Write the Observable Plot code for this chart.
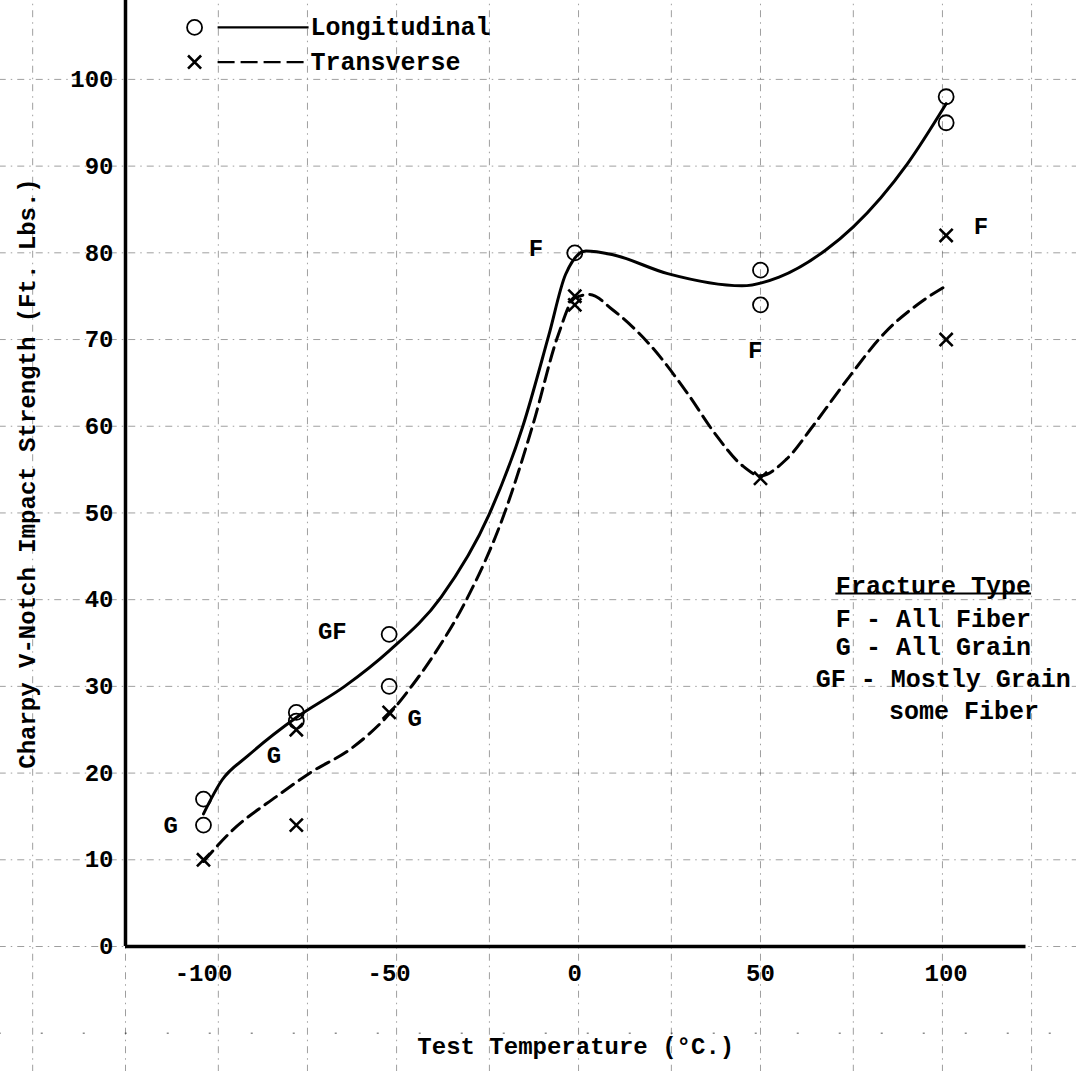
<!DOCTYPE html>
<html>
<head>
<meta charset="utf-8">
<script src="https://cdn.jsdelivr.net/npm/d3@7"></script>
<script src="https://cdn.jsdelivr.net/npm/@observablehq/plot@0.6"></script>
<style>
  html, body { margin: 0; padding: 0; background: #fff; }
  #chart { width: 1076px; height: 1071px; }
</style>
</head>
<body>
<div id="chart"></div>
<script>
// ---------- data ----------
const xTicks = [-100, -50, 0, 50, 100];
const yTicks = [0, 10, 20, 30, 40, 50, 60, 70, 80, 90, 100];

// measured points
const longTemp  = [-100, -100, -75, -75, -50, -50, 0, 50, 50, 100, 100];
const longValue = [17, 14, 27, 26, 36, 30, 80, 78, 74, 98, 95];
const transTemp  = [-100, -75, -75, -50, 0, 0, 50, 100, 100];
const transValue = [10, 25, 14, 27, 75, 74, 54, 82, 70];

// hand-drawn fitted curves (traced)
const longCurveTemp  = [-100, -95, -88, -75, -62, -50, -36, -23, -14, -7, -2.5, 3, 10, 25, 45, 55, 67.5, 75, 89.6, 100];
const longCurveValue = [15.3, 19.2, 22.0, 26.4, 30.0, 34.1, 40.3, 49.9, 60.0, 70.5, 77.5, 80.2, 79.8, 77.6, 76.2, 77.2, 80.3, 83.0, 90.3, 97.2];
const transCurveTemp  = [-100, -92.7, -80, -71, -60, -50, -43.8, -37.7, -29.3, -19, -11.2, -4.5, 0, 4, 10, 20, 30, 38, 45, 50, 57, 64.6, 73.9, 83.3, 93.8, 100];
const transCurveValue = [9.8, 13.2, 17.4, 20.1, 22.9, 26.8, 30.1, 33.8, 39.9, 49.9, 60.3, 70.5, 74.8, 75.2, 73.5, 69.5, 64.0, 59.0, 55.5, 54.3, 56.2, 60.3, 65.7, 70.7, 74.5, 76.2];

// fracture-type annotations (data units)
const annotLabel = ["F", "F", "F", "GF", "G", "G", "G"];
const annotTemp  = [-10.5, 48.6, 109.4, -65.3, -108.8, -81, -43.1];
const annotValue = [80.5, 68.7, 83.0, 36.4, 14.0, 22.0, 26.3];

// legend (series key) and fracture-type key
const seriesNames = ["Longitudinal", "Transverse"];
const keyValue = [106.0, 102.0];
const fractureLines = ["Fracture Type", "F - All Fiber", "G - All Grain", "GF - Mostly Grain", "some Fiber"];
const fractureTemp  = [70.3, 70.3, 70.3, 64.9, 84.6];
const fractureValue = [41.6, 37.8, 34.5, 30.9, 27.2];

// graph-paper rulings (data units)
const hGrid = [0, 10, 20, 30, 40, 50, 60, 70, 80, 90, 100];
const vGrid = [-146, -121, -96, -72, -48, -23, 1, 26, 50, 75, 99, 123];

const xTitle = "Test Temperature (\u00B0C.)";
const yTitle = "Charpy V-Notch Impact Strength (Ft. Lbs.)";

// ---------- build ----------
const zip = (a, b) => a.map((t, i) => ({t, v: b[i]}));
const longPts = zip(longTemp, longValue);
const transPts = zip(transTemp, transValue);
const longCurve = zip(longCurveTemp, longCurveValue);
const transCurve = zip(transCurveTemp, transCurveValue);
const annots = annotLabel.map((label, i) => ({label, t: annotTemp[i], v: annotValue[i]}));
const fracture = fractureLines.map((label, i) => ({label, t: fractureTemp[i], v: fractureValue[i]}));

const font = "'Liberation Mono', 'DejaVu Sans Mono', monospace";
const gridStyle = {stroke: "#000", strokeOpacity: 0.38, strokeWidth: 1, strokeDasharray: "7 5 1.5 5"};

const chart = Plot.plot({
  width: 1076,
  height: 1071,
  marginTop: 0,
  marginRight: 50.5,
  marginBottom: 125,
  marginLeft: 125,
  style: {fontFamily: font, fontSize: "24px", fontWeight: "bold", color: "#000", background: "#fff", overflow: "visible"},
  x: {domain: [-121, 121.5], ticks: xTicks, tickFormat: d => String(d), tickSize: 0, tickPadding: 17, label: null},
  y: {domain: [0, 109.1], ticks: yTicks, tickFormat: d => String(d), tickSize: 0, tickPadding: 12, label: null},
  marks: [
    // graph paper
    Plot.ruleY(hGrid, {x1: -155, x2: 136, ...gridStyle}),
    Plot.ruleY([-10], {x1: -155, x2: 136, stroke: "#000", strokeOpacity: 0.45, strokeWidth: 1.5, strokeDasharray: "2 40"}),
    Plot.ruleX(vGrid, {y1: -14.5, y2: 110, ...gridStyle}),
    // axes lines
    Plot.ruleX([-121], {y1: 0, y2: 110, stroke: "#000", strokeWidth: 3.5}),
    Plot.ruleY([0], {x1: -121, x2: 121.5, stroke: "#000", strokeWidth: 3.5}),
    // curves
    Plot.line(longCurve, {x: "t", y: "v", curve: "monotone-x", stroke: "#000", strokeWidth: 3}),
    Plot.line(transCurve, {x: "t", y: "v", curve: "monotone-x", stroke: "#000", strokeWidth: 3, strokeDasharray: "14 7"}),
    // points
    Plot.dot(longPts, {x: "t", y: "v", r: 7.5, stroke: "#000", strokeWidth: 1.8, fill: "none"}),
    Plot.dot(transPts, {x: "t", y: "v", symbol: "times", r: 6, stroke: "#000", strokeWidth: 2.6}),
    // fracture annotations
    Plot.text(annots, {x: "t", y: "v", text: "label", fontSize: 24, fontWeight: "bold"}),
    // series key
    Plot.dot([seriesNames[0]], {x: -102.4, y: keyValue[0], r: 7.5, stroke: "#000", strokeWidth: 1.8, fill: "none"}),
    Plot.dot([seriesNames[1]], {x: -102.4, y: keyValue[1], symbol: "times", r: 6, stroke: "#000", strokeWidth: 2.6}),
    Plot.link([seriesNames[0]], {x1: -96.2, x2: -71.7, y1: keyValue[0], y2: keyValue[0], stroke: "#000", strokeWidth: 2.2}),
    Plot.link([seriesNames[1]], {x1: -96.2, x2: -71.7, y1: keyValue[1], y2: keyValue[1], stroke: "#000", strokeWidth: 2.2, strokeDasharray: "17 6"}),
    Plot.text(seriesNames, {x: -71.2, y: (d, i) => keyValue[i], text: d => d, textAnchor: "start", fontSize: 25, fontWeight: "bold"}),
    // fracture type key
    Plot.text(fracture, {x: "t", y: "v", text: "label", textAnchor: "start", fontSize: 25, fontWeight: "bold"}),
    Plot.ruleY([40.7], {x1: 70.3, x2: 123, stroke: "#000", strokeWidth: 2}),
    // axis titles
    Plot.text([xTitle], {frameAnchor: "bottom", dy: 100, text: d => d, textAnchor: "middle", lineAnchor: "middle", fontSize: 24, fontWeight: "bold"}),
    Plot.text([yTitle], {frameAnchor: "left", dx: -98, rotate: -90, text: d => d, textAnchor: "middle", lineAnchor: "middle", fontSize: 24, fontWeight: "bold"})
  ]
});

document.getElementById("chart").appendChild(chart);
</script>
</body>
</html>
